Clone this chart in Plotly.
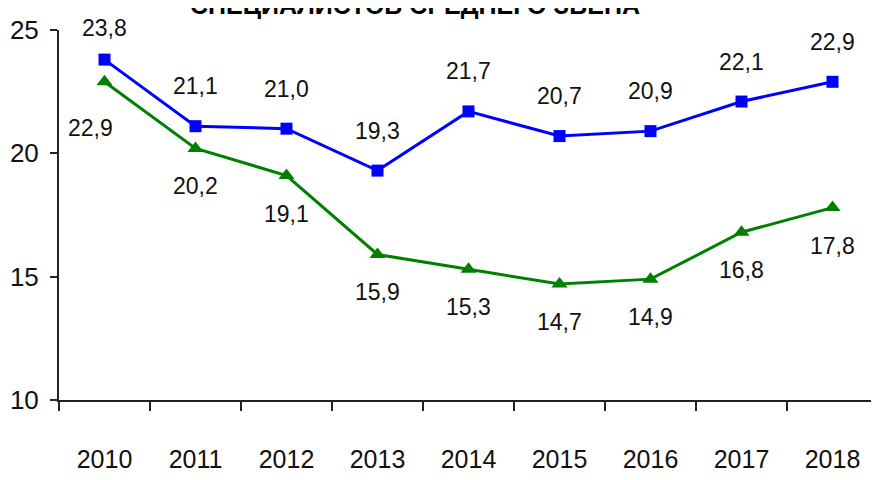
import plotly.graph_objects as go

years = ["2010", "2011", "2012", "2013", "2014", "2015", "2016", "2017", "2018"]
blue_vals = [23.8, 21.1, 21.0, 19.3, 21.7, 20.7, 20.9, 22.1, 22.9]
green_vals = [22.9, 20.2, 19.1, 15.9, 15.3, 14.7, 14.9, 16.8, 17.8]
y_ticks = [10, 15, 20, 25]
title_text = "СПЕЦИАЛИСТОВ СРЕДНЕГО ЗВЕНА"

FONT = "Liberation Sans, Arial, sans-serif"

def fmt(v):
    return f"{v:.1f}".replace(".", ",")

fig = go.Figure()
fig.add_trace(go.Scatter(
    x=years, y=green_vals, mode="lines+markers",
    line=dict(color="#008000", width=3),
    marker=dict(symbol="triangle-up", size=14, color="#008000"),
    cliponaxis=False, showlegend=False,
))
fig.add_trace(go.Scatter(
    x=years, y=blue_vals, mode="lines+markers",
    line=dict(color="#0000FF", width=3),
    marker=dict(symbol="square", size=12, color="#0000FF"),
    cliponaxis=False, showlegend=False,
))

annotations = []
for i, v in enumerate(blue_vals):
    annotations.append(dict(x=i, y=v, xref="x", yref="y", text=fmt(v),
                            showarrow=False, yshift=40 if i > 0 else 32,
                            font=dict(family=FONT, size=23, color="#111111")))
for i, v in enumerate(green_vals):
    annotations.append(dict(x=i, y=v, xref="x", yref="y", text=fmt(v),
                            showarrow=False, yshift=-38 if i > 0 else -46,
                            xshift=-14 if i == 0 else 0,
                            font=dict(family=FONT, size=23, color="#111111")))
annotations.append(dict(x=0.435, y=1.0, xref="paper", yref="paper",
                        yanchor="bottom", xanchor="center", showarrow=False,
                        yshift=9,
                        text="<b>" + title_text + "</b>",
                        font=dict(family=FONT, size=25, color="#000000")))

fig.update_layout(
    width=879, height=480,
    margin=dict(l=51, r=9, t=22, b=88),
    paper_bgcolor="white", plot_bgcolor="white",
    annotations=annotations,
    font=dict(family=FONT, color="#111111"),
)
fig.update_xaxes(
    type="category", range=[-0.5, 8.5], automargin=False,
    showline=True, linecolor="#222222", linewidth=2,
    ticks="outside", tickson="boundaries", ticklen=9, tickwidth=2, tickcolor="#222222",
    showgrid=False, zeroline=False,
    tickfont=dict(family=FONT, size=25, color="#111111"),
    ticklabelstandoff=36,
)
fig.update_yaxes(
    range=[10, 25], tickvals=y_ticks, automargin=False,
    showline=True, linecolor="#222222", linewidth=2,
    ticks="outside", ticklen=7, tickwidth=2, tickcolor="#222222",
    showgrid=False, zeroline=False,
    tickfont=dict(family=FONT, size=26, color="#111111"),
    ticklabelstandoff=6,
)

fig.write_html("out.html")
